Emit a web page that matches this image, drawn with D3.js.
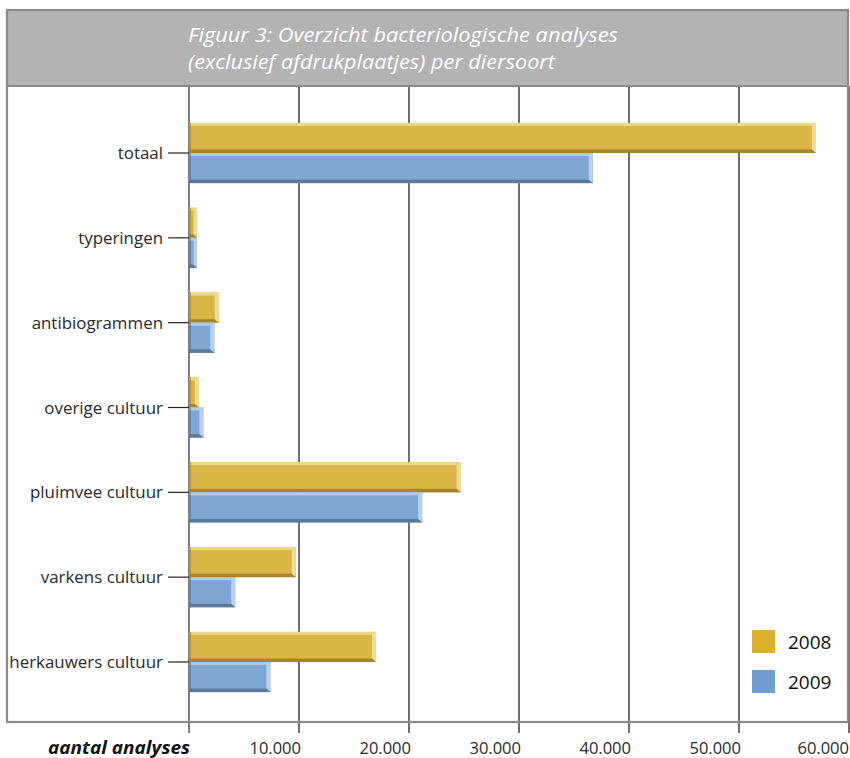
<!DOCTYPE html>
<html><head><meta charset="utf-8">
<script src="https://cdn.jsdelivr.net/npm/d3@7"></script>
<style>body{margin:0;background:#fff}svg{display:block}</style>
</head><body>
<svg id="c" width="850" height="758"></svg>
<script>
const categories = ["totaal","typeringen","antibiogrammen","overige cultuur","pluimvee cultuur","varkens cultuur","herkauwers cultuur"];
const series = ["2008","2009"];
const values2008 = [57000, 700, 2700, 900, 24700, 9700, 17000];
const values2009 = [36700, 700, 2300, 1300, 21200, 4200, 7400];
const tickValues = [10000,20000,30000,40000,50000,60000];
const tickLabels = ["10.000","20.000","30.000","40.000","50.000","60.000"];
const titleLines = ["Figuur 3: Overzicht bacteriologische analyses","(exclusief afdrukplaatjes) per diersoort"];
const axisTitle = "aantal analyses";

const svg = d3.select("#c");
const font = "'Open Sans', 'Noto Sans', sans-serif";

const x = d3.scaleLinear().domain([0,60000]).range([189,849]);
const y = d3.scaleBand().domain(categories).range([110.6,704.4]).paddingInner(0.29).paddingOuter(0.145);
const ys = d3.scaleBand().domain(series).range([0,y.bandwidth()]);

const colors = {
  "2008": {main:"#dbb646", top:"#ecd68c", bot:"#a3852f", end:"#efdc9a", leg:"#d9b12f"},
  "2009": {main:"#80a6d3", top:"#b2cbe8", bot:"#5d7898", end:"#b9d1ec", leg:"#6f9fd0"}
};

// frame
const frameL=7, frameR=848, frameT=10, frameB=722, bandB=86;
svg.append("rect").attr("x",frameL).attr("y",frameT).attr("width",frameR-frameL).attr("height",bandB-frameT)
  .attr("fill","#b3b3b3");

// gridlines
svg.append("g").selectAll("line").data(tickValues).join("line")
  .attr("x1",d=>x(d)).attr("x2",d=>x(d)).attr("y1",bandB).attr("y2",733)
  .attr("stroke","#222").attr("stroke-width",1.3);
// zero axis
svg.append("line").attr("x1",x(0)).attr("x2",x(0)).attr("y1",bandB).attr("y2",733)
  .attr("stroke","#555").attr("stroke-width",1.5);

// frame border
svg.append("rect").attr("x",frameL).attr("y",frameT).attr("width",frameR-frameL).attr("height",frameB-frameT)
  .attr("fill","none").attr("stroke","#8a8a8a").attr("stroke-width",2.2);
svg.append("line").attr("x1",frameL).attr("x2",frameR).attr("y1",bandB).attr("y2",bandB)
  .attr("stroke","#8a8a8a").attr("stroke-width",2);

// title
svg.append("g").selectAll("text").data(titleLines).join("text")
  .attr("x",188).attr("y",(d,i)=>42+i*27)
  .attr("fill","#fff").attr("font-family",font).attr("font-style","italic")
  .attr("font-size",19.5)
  .attr("textLength",(d,i)=>i===0?430:367).attr("lengthAdjust","spacingAndGlyphs")
  .text(d=>d);

// bars
const data = [];
categories.forEach((c,i)=>{
  data.push({cat:c, s:"2008", v:values2008[i]});
  data.push({cat:c, s:"2009", v:values2009[i]});
});
const g = svg.append("g");
const bars = g.selectAll("g.bar").data(data).join("g").attr("class","bar");
const bh = ys.bandwidth();
const by = d=>y(d.cat)+ys(d.s);
const bw = d=>x(d.v)-x(0);
bars.append("rect").attr("x",x(0)).attr("y",by).attr("width",bw).attr("height",bh)
  .attr("fill",d=>colors[d.s].main);
bars.append("rect").attr("x",x(0)).attr("y",by).attr("width",bw).attr("height",3)
  .attr("fill",d=>colors[d.s].top);
bars.append("rect").attr("x",x(0)).attr("y",d=>by(d)+bh-3.5).attr("width",bw).attr("height",3.5)
  .attr("fill",d=>colors[d.s].bot);
bars.append("polygon")
  .attr("points",d=>{
    const x1=x(d.v), w=Math.min(4,bw(d)*0.4), t=by(d), b=t+bh;
    return [[x1-w,t+3],[x1,t],[x1,b],[x1-w,b-3.5]].map(p=>p.join(",")).join(" ");
  })
  .attr("fill",d=>colors[d.s].end);
bars.append("rect").attr("x",x(0)).attr("y",by).attr("width",d=>Math.min(2,bw(d))).attr("height",bh)
  .attr("fill",d=>colors[d.s].bot).attr("opacity",0.7);

// category axis
const yc = d=>y(d)+y.bandwidth()/2;
svg.append("g").selectAll("line").data(categories).join("line")
  .attr("x1",168).attr("x2",x(0)).attr("y1",yc).attr("y2",yc)
  .attr("stroke","#222").attr("stroke-width",1.2);
svg.append("g").selectAll("text").data(categories).join("text")
  .attr("x",163).attr("y",d=>yc(d)+6).attr("text-anchor","end")
  .attr("font-family",font).attr("font-size",16.9).attr("fill","#2a2a2a")
  .text(d=>d);

// x tick labels (right-aligned at gridline)
svg.append("g").selectAll("text").data(tickValues).join("text")
  .attr("x",d=>Math.min(x(d)+2,849)).attr("y",754).attr("text-anchor","end")
  .attr("font-family",font).attr("font-size",16.5).attr("fill","#2a2a2a")
  .text((d,i)=>tickLabels[i]);
svg.append("text").attr("x",48).attr("y",754)
  .attr("font-family",font).attr("font-size",17.5).attr("font-weight","bold").attr("font-style","italic")
  .attr("textLength",142).attr("lengthAdjust","spacingAndGlyphs")
  .attr("fill","#111").text(axisTitle);

// legend
const leg = svg.append("g").selectAll("g").data(series).join("g")
  .attr("transform",(d,i)=>`translate(752,${630+i*40})`);
leg.append("rect").attr("width",23).attr("height",23).attr("fill",d=>colors[d].leg);
leg.append("text").attr("x",36).attr("y",19).attr("font-family",font).attr("font-size",19)
  .attr("fill","#111").text(d=>d);
</script>
</body></html>
